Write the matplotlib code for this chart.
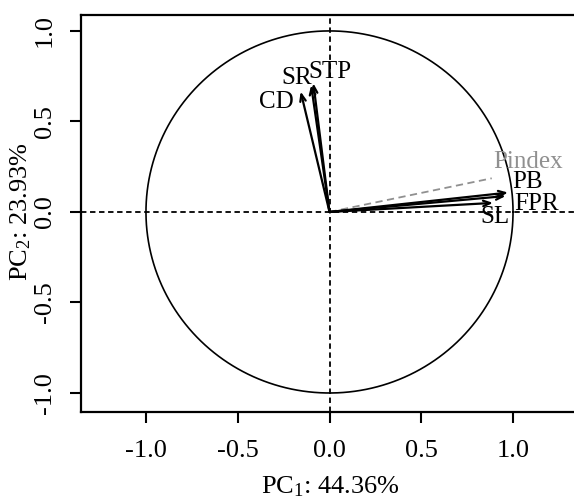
import matplotlib
matplotlib.use("Agg")
import matplotlib.pyplot as plt
import numpy as np

plt.rcParams['font.family'] = ['Liberation Serif', 'DejaVu Serif']
plt.rcParams['mathtext.fontset'] = 'custom'
plt.rcParams['mathtext.rm'] = 'Liberation Serif'
plt.rcParams['mathtext.it'] = 'Liberation Serif:italic'

# loadings (PC1, PC2)
variables = ["CD", "SR", "STP", "PB", "FPR", "SL"]
pc1 = [-0.157, -0.100, -0.088, 0.973, 0.960, 0.891]
pc2 = [0.665, 0.700, 0.711, 0.107, 0.088, 0.050]
# label positions
lab_x = [-0.290, -0.180, 0.002, 1.080, 1.130, 0.900]
lab_y = [0.610, 0.740, 0.775, 0.165, 0.045, -0.030]

supp_name = "Pindex"
supp_xy = (0.884, 0.186)
supp_lab = (1.080, 0.275)

xlab = "PC$_\\mathrm{1}$: 44.36%"
ylab = "PC$_\\mathrm{2}$: 23.93%"
ticks = [-1.0, -0.5, 0.0, 0.5, 1.0]

fig = plt.figure(figsize=(5.74, 5.01), dpi=100)
ax = fig.add_axes([81/574, (501-412)/501, 497/574, 397/501])
ax.set_xlim(-1.354, 1.354)
ax.set_ylim(-1.105, 1.088)

# circle
t = np.linspace(0, 2*np.pi, 400)
ax.plot(np.cos(t), np.sin(t), color='black', lw=1.2)
ax.axhline(0, color='black', ls=(0, (3, 2)), lw=1.3)
ax.axvline(0, color='black', ls=(0, (3, 2)), lw=1.3)

# supplementary variable
ax.plot([0, supp_xy[0]], [0, supp_xy[1]], color='#909090', ls=(0, (4, 2.5)), lw=1.3)
ax.text(supp_lab[0], supp_lab[1], supp_name, color='#909090', fontsize=18,
        ha='center', va='center')

for name, x, y, lx, ly in zip(variables, pc1, pc2, lab_x, lab_y):
    ax.annotate("", xy=(x, y), xytext=(0, 0),
                arrowprops=dict(arrowstyle='->,head_length=0.5,head_width=0.2',
                                color='black', lw=1.6, shrinkA=0, shrinkB=0))
    ax.text(lx, ly, name, fontsize=18, ha='center', va='center', color='black')

ax.set_xticks(ticks)
ax.set_yticks(ticks)
ax.set_xticklabels([f"{v:.1f}" for v in ticks], fontsize=19)
ax.set_yticklabels([f"{v:.1f}" for v in ticks], fontsize=19, rotation=90, va='center')
ax.tick_params(axis='x', direction='out', length=8, width=1.5, pad=12)
ax.tick_params(axis='y', direction='out', length=8, width=1.5, pad=10)
for s in ax.spines.values():
    s.set_linewidth(1.6)
fig.text(330/574, 1 - 487/501, xlab, fontsize=19, ha='center', va='center')
fig.text(21/574, 1 - 212/501, ylab, fontsize=19, ha='center', va='center', rotation=90)

fig.savefig("out.png", dpi=100)
